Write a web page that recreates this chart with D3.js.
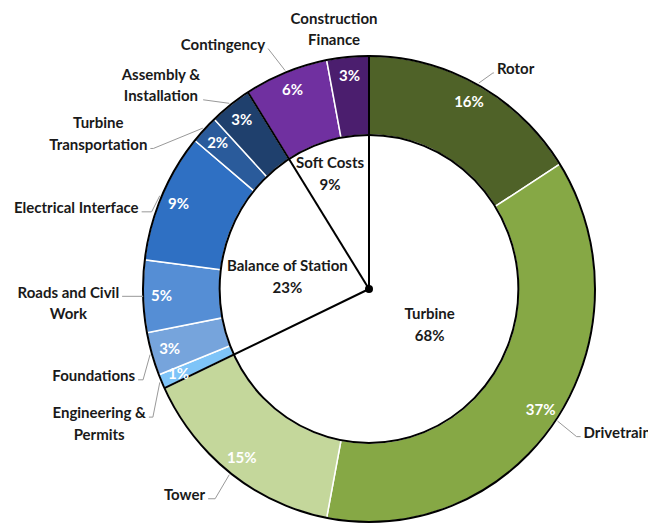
<!DOCTYPE html>
<html>
<head>
<meta charset="utf-8">
<script src="https://cdn.jsdelivr.net/npm/d3@7"></script>
<style>
  body { margin: 0; background: #fff; }
  svg { display: block; }
  text { font-family: Lato, "Open Sans", sans-serif; font-weight: bold; }
</style>
</head>
<body>
<svg id="chart" width="648" height="523"></svg>
<script>
// inner ring: cost groups
const groups = ['Turbine', 'Balance of Station', 'Soft Costs'];
const groupValues = [68, 23, 9];

// outer ring: cost components, clockwise from 12 o'clock
const categories = [
  'Rotor', 'Drivetrain', 'Tower',
  'Engineering & Permits', 'Foundations', 'Roads and Civil Work', 'Electrical Interface',
  'Turbine Transportation', 'Assembly & Installation',
  'Contingency', 'Construction Finance'
];
const categoryGroup = [
  'Turbine', 'Turbine', 'Turbine',
  'Balance of Station', 'Balance of Station', 'Balance of Station', 'Balance of Station',
  'Balance of Station', 'Balance of Station',
  'Soft Costs', 'Soft Costs'
];
const values = [16, 37, 15, 1, 3, 5, 9, 2, 3, 6, 3];

const labelLines = {
  'Engineering & Permits': ['Engineering &', 'Permits'],
  'Roads and Civil Work': ['Roads and Civil', 'Work'],
  'Turbine Transportation': ['Turbine', 'Transportation'],
  'Assembly & Installation': ['Assembly &', 'Installation'],
  'Construction Finance': ['Construction', 'Finance']
};

const palette = ['#4f6228', '#86a845', '#c4d79b', '#7ec4f8', '#76a4dc', '#558ed5',
  '#2f70c3', '#2a5b9b', '#1f406d', '#7030a0', '#4b1e6e'];

// label placement: angle offset (deg), radial extension past the ring,
// hook length, which text line sits at the elbow
const labelLayout = {
  'Rotor':                   { da: 1.8,  ext: 18, hook: 1,  line: 0 },
  'Drivetrain':              { da: 0.4,  ext: 27, hook: 4,  line: 0 },
  'Tower':                   { da: -0.7, ext: 30, hook: 7,  line: 0 },
  'Engineering & Permits':   { da: -6.5, ext: 24, hook: 4,  line: 0 },
  'Foundations':             { da: -5.1, ext: 17, hook: 5,  line: 0 },
  'Roads and Civil Work':    { da: 0,    ext: 0,  hook: 21, line: 0 },
  'Electrical Interface':    { da: -4.4, ext: 4,  hook: 10, line: 0 },
  'Turbine Transportation':  { da: -10.9, ext: 30, hook: 3, line: 1 },
  'Assembly & Installation': { da: -4.3, ext: 22, hook: 0,  line: 1 },
  'Contingency':             { da: -1.8, ext: 29, hook: 0,  line: 0 },
  'Construction Finance':    { da: -2.5, ext: 29, hook: 0,  line: 0.5, noLeader: true }
};
const innerLabelLayout = {
  'Turbine': { da: -2.6, rho: 72 },
  'Balance of Station': { da: -8, rho: 85 },
  'Soft Costs': { da: -3, rho: 122 }
};

const width = 648;
const height = 523;
const cx = 369;
const cy = 289;
const sx = 0.97;
const outerR = 233;
const innerR = 154;
const pctR = 214;
const lineH = 21.5;
const fontSize = 15;

const svg = d3.select('#chart');

const data = categories.map((c, i) => ({ name: c, group: categoryGroup[i], value: values[i], color: palette[i] }));
const groupData = groups.map((g, i) => ({ name: g, value: groupValues[i] }));

const pie = d3.pie().sort(null).value(d => d.value);
const arcs = pie(data);
const groupArcs = pie(groupData);

const pt = (a, rho) => [cx + sx * rho * Math.sin(a), cy - rho * Math.cos(a)];
const rad = deg => deg * Math.PI / 180;

const ring = svg.append('g')
  .attr('transform', `translate(${cx},${cy}) scale(${sx},1)`);

const arcGen = d3.arc().innerRadius(innerR).outerRadius(outerR);

ring.selectAll('path.slice')
  .data(arcs)
  .enter()
  .append('path')
  .attr('class', 'slice')
  .attr('d', arcGen)
  .attr('fill', d => d.data.color)
  .attr('stroke', '#fff')
  .attr('stroke-width', 1.5)
  .attr('vector-effect', 'non-scaling-stroke');

ring.selectAll('circle.edge')
  .data([outerR, innerR])
  .enter()
  .append('circle')
  .attr('class', 'edge')
  .attr('r', d => d)
  .attr('fill', 'none')
  .attr('stroke', '#000')
  .attr('stroke-width', 2)
  .attr('vector-effect', 'non-scaling-stroke');

// group boundaries run from the centre to the outer edge
ring.selectAll('line.divider')
  .data(groupArcs)
  .enter()
  .append('line')
  .attr('class', 'divider')
  .attr('x1', 0)
  .attr('y1', 0)
  .attr('x2', d => outerR * Math.sin(d.startAngle))
  .attr('y2', d => -outerR * Math.cos(d.startAngle))
  .attr('stroke', '#000')
  .attr('stroke-width', 2)
  .attr('vector-effect', 'non-scaling-stroke');

svg.append('circle')
  .attr('cx', cx)
  .attr('cy', cy)
  .attr('r', 4)
  .attr('fill', '#000');

// percentages on the ring
svg.selectAll('text.pct')
  .data(arcs)
  .enter()
  .append('text')
  .attr('class', 'pct')
  .attr('x', d => pt((d.startAngle + d.endAngle) / 2, pctR)[0])
  .attr('y', d => pt((d.startAngle + d.endAngle) / 2, pctR)[1] + fontSize * 0.35)
  .attr('text-anchor', 'middle')
  .attr('fill', '#fff')
  .style('font-size', fontSize + 'px')
  .text(d => d.data.value + '%');

// group labels inside
groupArcs.forEach((d) => {
  const lay = innerLabelLayout[d.data.name];
  const p = pt((d.startAngle + d.endAngle) / 2 + rad(lay.da), lay.rho);
  const t = svg.append('text')
    .attr('text-anchor', 'middle')
    .attr('fill', '#1a1a1a')
    .style('font-size', fontSize + 'px');
  [d.data.name, d.data.value + '%'].forEach((s, i) => {
    t.append('tspan')
      .attr('x', p[0])
      .attr('y', p[1] + (i - 0.5) * lineH + fontSize * 0.35)
      .text(s);
  });
});

// category labels with leader lines
arcs.forEach((d) => {
  const name = d.data.name;
  const lay = labelLayout[name];
  const mid = (d.startAngle + d.endAngle) / 2;
  const start = pt(mid, outerR + 2);
  const elbow = pt(mid + rad(lay.da), outerR + lay.ext);
  const left = elbow[0] < cx;
  const dir = left ? -1 : 1;
  const hookEnd = [elbow[0] + dir * lay.hook, elbow[1]];
  const lines = labelLines[name] || [name];

  if (!lay.noLeader) {
    svg.append('path')
      .attr('d', d3.line()([start, elbow, hookEnd]))
      .attr('fill', 'none')
      .attr('stroke', '#999')
      .attr('stroke-width', 1);
  }

  const t = svg.append('text')
    .attr('text-anchor', 'middle')
    .attr('fill', '#1a1a1a')
    .style('font-size', fontSize + 'px');
  const spans = lines.map((s) => t.append('tspan').text(s));
  const maxW = d3.max(spans, s => s.node().getComputedTextLength());
  let bx;
  if (lay.noLeader) bx = elbow[0];
  else bx = left ? hookEnd[0] - 3 - maxW / 2 : hookEnd[0] + 3 + maxW / 2;
  const cyText = lay.noLeader ? elbow[1] : elbow[1] - 4;
  spans.forEach((s, i) => {
    s.attr('x', bx)
      .attr('y', cyText + (i - lay.line) * lineH + fontSize * 0.35);
  });
});
</script>
</body>
</html>
